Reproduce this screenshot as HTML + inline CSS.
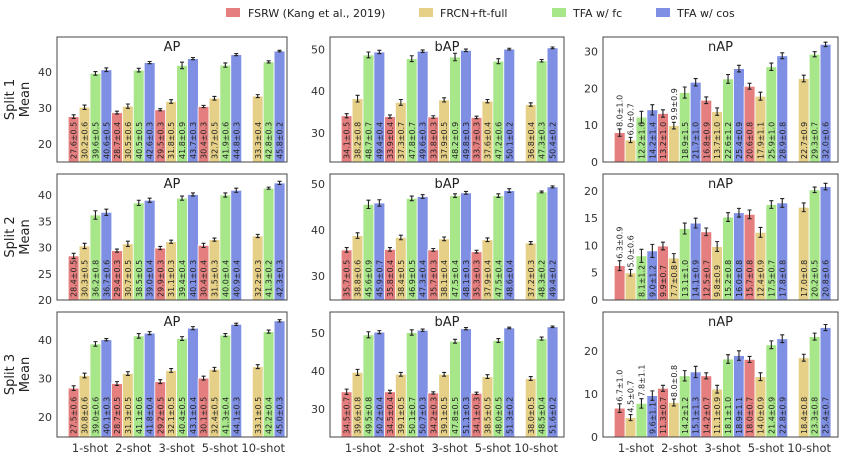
<!DOCTYPE html>
<html><head><meta charset="utf-8"><style>
html,body{margin:0;padding:0;background:#fff;}
svg{display:block;font-family:"DejaVu Sans","Liberation Sans",sans-serif;}
</style></head><body>
<svg id="chart" width="846" height="453" xmlns="http://www.w3.org/2000/svg">
<g font-size="11" fill="#222">
  <rect x="226" y="8" width="14" height="9" fill="#e57f7f"/>
  <text x="248" y="17">FSRW (Kang et al., 2019)</text>
  <rect x="419" y="8" width="14" height="9" fill="#e6d088"/>
  <text x="440" y="17">FRCN+ft-full</text>
  <rect x="552" y="8" width="14" height="9" fill="#a8e68a"/>
  <text x="573" y="17">TFA w/ fc</text>
  <rect x="656" y="8" width="14" height="9" fill="#7f8fe3"/>
  <text x="677" y="17">TFA w/ cos</text>
</g>
</svg>
<script>
const categories = ["1-shot","2-shot","3-shot","5-shot","10-shot"];
const methods = ["FSRW (Kang et al., 2019)","FRCN+ft-full","TFA w/ fc","TFA w/ cos"];
const splits = ["Split 1","Split 2","Split 3"];
const metrics = ["AP","bAP","nAP"];

// Split 1
const s1_AP_fsrw=[27.6,28.7,29.5,30.4,null], s1_AP_fsrw_sd=[0.5,0.4,0.3,0.3,null];
const s1_AP_frcn=[30.2,30.5,31.8,32.7,33.3], s1_AP_frcn_sd=[0.6,0.6,0.5,0.5,0.4];
const s1_AP_fc=[39.6,40.5,41.8,41.9,42.8], s1_AP_fc_sd=[0.5,0.5,0.9,0.6,0.3];
const s1_AP_cos=[40.6,42.6,43.7,44.8,45.8], s1_AP_cos_sd=[0.5,0.3,0.3,0.3,0.2];
const s1_bAP_fsrw=[34.1,33.9,33.8,33.7,null], s1_bAP_fsrw_sd=[0.5,0.4,0.3,0.3,null];
const s1_bAP_frcn=[38.2,37.3,37.9,37.6,36.8], s1_bAP_frcn_sd=[0.8,0.7,0.5,0.4,0.4];
const s1_bAP_fc=[48.7,47.8,48.2,47.2,47.3], s1_bAP_fc_sd=[0.7,0.7,0.9,0.6,0.3];
const s1_bAP_cos=[49.4,49.6,49.8,50.1,50.4], s1_bAP_cos_sd=[0.4,0.3,0.3,0.2,0.2];
const s1_nAP_fsrw=[8.0,13.2,16.8,20.6,null], s1_nAP_fsrw_sd=[1.0,1.0,0.9,0.8,null];
const s1_nAP_frcn=[6.0,9.9,13.7,17.9,22.7], s1_nAP_frcn_sd=[0.7,0.9,1.0,1.1,0.9];
const s1_nAP_fc=[12.2,18.9,22.6,25.9,29.3], s1_nAP_fc_sd=[1.6,1.5,1.2,1.0,0.7];
const s1_nAP_cos=[14.2,21.7,25.4,28.9,32.0], s1_nAP_cos_sd=[1.4,1.0,0.9,0.8,0.6];
// Split 2
const s2_AP_fsrw=[28.4,29.4,29.9,30.4,null], s2_AP_fsrw_sd=[0.5,0.3,0.3,0.4,null];
const s2_AP_frcn=[30.3,30.7,31.1,31.5,32.2], s2_AP_frcn_sd=[0.5,0.5,0.3,0.3,0.3];
const s2_AP_fc=[36.2,38.5,39.4,40.0,41.3], s2_AP_fc_sd=[0.8,0.5,0.4,0.4,0.2];
const s2_AP_cos=[36.7,39.0,40.1,40.9,42.3], s2_AP_cos_sd=[0.6,0.4,0.3,0.4,0.3];
const s2_bAP_fsrw=[35.7,35.8,35.7,35.3,null], s2_bAP_fsrw_sd=[0.5,0.4,0.3,0.3,null];
const s2_bAP_frcn=[38.8,38.4,38.1,37.9,37.2], s2_bAP_frcn_sd=[0.6,0.5,0.4,0.4,0.3];
const s2_bAP_fc=[45.6,46.9,47.5,47.5,48.3], s2_bAP_fc_sd=[0.9,0.5,0.4,0.4,0.2];
const s2_bAP_cos=[45.9,47.3,48.1,48.6,49.4], s2_bAP_cos_sd=[0.7,0.4,0.3,0.4,0.2];
const s2_nAP_fsrw=[6.3,9.9,12.5,15.7,null], s2_nAP_fsrw_sd=[0.9,0.7,0.7,0.8,null];
const s2_nAP_frcn=[5.0,7.7,9.8,12.4,17.0], s2_nAP_frcn_sd=[0.6,0.8,0.9,0.9,0.8];
const s2_nAP_fc=[8.1,13.1,15.2,17.5,20.2], s2_nAP_fc_sd=[1.2,1.0,0.8,0.7,0.5];
const s2_nAP_cos=[9.0,14.1,16.0,17.8,20.8], s2_nAP_cos_sd=[1.2,0.9,0.8,0.8,0.6];
// Split 3
const s3_AP_fsrw=[27.5,28.7,29.2,30.1,null], s3_AP_fsrw_sd=[0.6,0.5,0.5,0.5,null];
const s3_AP_frcn=[30.8,31.3,32.1,32.4,33.1], s3_AP_frcn_sd=[0.6,0.5,0.5,0.5,0.5];
const s3_AP_fc=[39.0,41.1,40.4,41.3,42.2], s3_AP_fc_sd=[0.6,0.6,0.5,0.4,0.4];
const s3_AP_cos=[40.1,41.8,43.1,44.1,45.0], s3_AP_cos_sd=[0.3,0.4,0.4,0.3,0.3];
const s3_bAP_fsrw=[34.5,34.5,34.2,34.1,null], s3_bAP_fsrw_sd=[0.7,0.4,0.3,0.3,null];
const s3_bAP_frcn=[39.6,39.1,39.1,38.5,38.0], s3_bAP_frcn_sd=[0.8,0.5,0.5,0.5,0.5];
const s3_bAP_fc=[49.5,50.1,47.8,48.0,48.5], s3_bAP_fc_sd=[0.8,0.7,0.5,0.5,0.4];
const s3_bAP_cos=[50.2,50.7,51.1,51.3,51.6], s3_bAP_cos_sd=[0.4,0.3,0.3,0.2,0.2];
const s3_nAP_fsrw=[6.7,11.3,14.2,18.0,null], s3_nAP_fsrw_sd=[1.0,0.7,0.7,0.7,null];
const s3_nAP_frcn=[4.5,8.0,11.1,14.0,18.4], s3_nAP_frcn_sd=[0.7,0.8,0.9,0.9,0.8];
const s3_nAP_fc=[7.8,14.2,18.1,21.4,23.3], s3_nAP_fc_sd=[1.1,1.2,1.0,0.9,0.8];
const s3_nAP_cos=[9.6,15.1,18.9,22.8,25.4], s3_nAP_cos_sd=[1.1,1.3,1.1,0.9,0.7];

// y-axis domains and ticks per panel [split][metric]
const yDomains=[[[15,49.7],[23,53],[0,34]],[[20,44],[24.8,52.2],[0,23.1]],[[14.8,47.3],[22.6,55.5],[0,29]]];
const yTicks=[[[20,30,40],[30,40,50],[0,10,20,30]],[[20,25,30,35,40],[30,40,50],[0,5,10,15,20]],[[20,30,40],[30,40,50],[0,10,20]]];

const DATA={
 s1:{AP:[[s1_AP_fsrw,s1_AP_fsrw_sd],[s1_AP_frcn,s1_AP_frcn_sd],[s1_AP_fc,s1_AP_fc_sd],[s1_AP_cos,s1_AP_cos_sd]],
     bAP:[[s1_bAP_fsrw,s1_bAP_fsrw_sd],[s1_bAP_frcn,s1_bAP_frcn_sd],[s1_bAP_fc,s1_bAP_fc_sd],[s1_bAP_cos,s1_bAP_cos_sd]],
     nAP:[[s1_nAP_fsrw,s1_nAP_fsrw_sd],[s1_nAP_frcn,s1_nAP_frcn_sd],[s1_nAP_fc,s1_nAP_fc_sd],[s1_nAP_cos,s1_nAP_cos_sd]]},
 s2:{AP:[[s2_AP_fsrw,s2_AP_fsrw_sd],[s2_AP_frcn,s2_AP_frcn_sd],[s2_AP_fc,s2_AP_fc_sd],[s2_AP_cos,s2_AP_cos_sd]],
     bAP:[[s2_bAP_fsrw,s2_bAP_fsrw_sd],[s2_bAP_frcn,s2_bAP_frcn_sd],[s2_bAP_fc,s2_bAP_fc_sd],[s2_bAP_cos,s2_bAP_cos_sd]],
     nAP:[[s2_nAP_fsrw,s2_nAP_fsrw_sd],[s2_nAP_frcn,s2_nAP_frcn_sd],[s2_nAP_fc,s2_nAP_fc_sd],[s2_nAP_cos,s2_nAP_cos_sd]]},
 s3:{AP:[[s3_AP_fsrw,s3_AP_fsrw_sd],[s3_AP_frcn,s3_AP_frcn_sd],[s3_AP_fc,s3_AP_fc_sd],[s3_AP_cos,s3_AP_cos_sd]],
     bAP:[[s3_bAP_fsrw,s3_bAP_fsrw_sd],[s3_bAP_frcn,s3_bAP_frcn_sd],[s3_bAP_fc,s3_bAP_fc_sd],[s3_bAP_cos,s3_bAP_cos_sd]],
     nAP:[[s3_nAP_fsrw,s3_nAP_fsrw_sd],[s3_nAP_frcn,s3_nAP_frcn_sd],[s3_nAP_fc,s3_nAP_fc_sd],[s3_nAP_cos,s3_nAP_cos_sd]]}
};

const colors=["#e57f7f","#e6d088","#a8e68a","#7f8fe3"];
const colX=[[57,287],[330,564],[603,838]];
const rowY=[[37,162],[174,300],[312,437]];
const NS="http://www.w3.org/2000/svg";
const svg=document.getElementById("chart");
function mk(tag,attrs,parent){const e=document.createElementNS(NS,tag);for(const k in attrs)e.setAttribute(k,attrs[k]);(parent||svg).appendChild(e);return e;}

for(let r=0;r<3;r++){
  const [y0,y1]=rowY[r];
  const rl=mk("text",{transform:`translate(14,${(y0+y1)/2}) rotate(-90)`,"text-anchor":"middle","font-size":"13",fill:"#222"});
  
  
  rl.textContent=splits[r];
  const ml=mk("text",{transform:`translate(29,${(y0+y1)/2}) rotate(-90)`,"text-anchor":"middle","font-size":"13",fill:"#222"});
  
  
  ml.textContent="Mean";
  for(let c=0;c<3;c++){
    const [x0,x1]=colX[c];
    const dom=yDomains[r][c];
    const ys=v=>y1-(v-dom[0])/(dom[1]-dom[0])*(y1-y0);
    const g=mk("g",{});
    
    
    const clipId=`clip${r}${c}`;
    const cp=mk("clipPath",{id:clipId},g);
    mk("rect",{x:x0,y:y0,width:x1-x0,height:y1-y0},cp);
    // ticks
    yTicks[r][c].forEach(t=>{
      const tl=mk("text",{x:x0-5,y:ys(t)+4,"text-anchor":"end","font-size":"11",fill:"#333"},g);
      
      
      tl.textContent=t;
    });
    const bars=mk("g",{"clip-path":`url(#${clipId})`},g);
    const series=DATA["s"+(r+1)][metrics[c]];
    const pitch=43.3, bw=10.9;
    for(let i=0;i<categories.length;i++){
      const cx=x0+33+pitch*i;
      for(let j=0;j<4;j++){
        const v=series[j][0][i], sd=series[j][1][i];
        if(v==null) continue;
        const bx=cx+(j-2)*bw;
        const top=ys(v), bot=y1;
        const b=mk("rect",{x:bx,y:top,width:bw,height:bot-top,fill:colors[j],stroke:"#fff","stroke-width":"0.8"},bars);
        
        
        const mx=bx+bw/2, eTop=ys(v+sd), eBot=ys(v-sd);
        const eb=mk("path",{d:`M${mx},${eTop}V${eBot}M${mx-2},${eTop}H${mx+2}M${mx-2},${eBot}H${mx+2}`,stroke:"#222","stroke-width":"1.1",fill:"none"},g);
        
        
        const lbl=v.toFixed(1)+"±"+sd.toFixed(1);
        const t=mk("text",{"font-size":"8",fill:"#222"},g);
        
        
        t.textContent=lbl;
        const len=t.getComputedTextLength ? t.getComputedTextLength() : lbl.length*5.2;
        const h=bot-top;
        let startY = (h >= len+5) ? bot-3 : eTop-2;
        t.setAttribute("transform",`translate(${mx+3},${startY}) rotate(-90)`);
      }
    }
    const fr=mk("rect",{x:x0,y:y0,width:x1-x0,height:y1-y0,fill:"none",stroke:"#444","stroke-width":"1"},g);
    
    
    const ti=mk("text",{x:(x0+x1)/2,y:y0+14,"text-anchor":"middle","font-size":"13",fill:"#222"},g);
    
    
    ti.textContent=metrics[c];
    if(r===2){
      for(let i=0;i<categories.length;i++){
        const xl=mk("text",{x:x0+33+pitch*i,y:452,"text-anchor":"middle","font-size":"11.5",fill:"#333"},g);
        
        
        xl.textContent=categories[i];
      }
    }
  }
}
</script>
</body></html>
